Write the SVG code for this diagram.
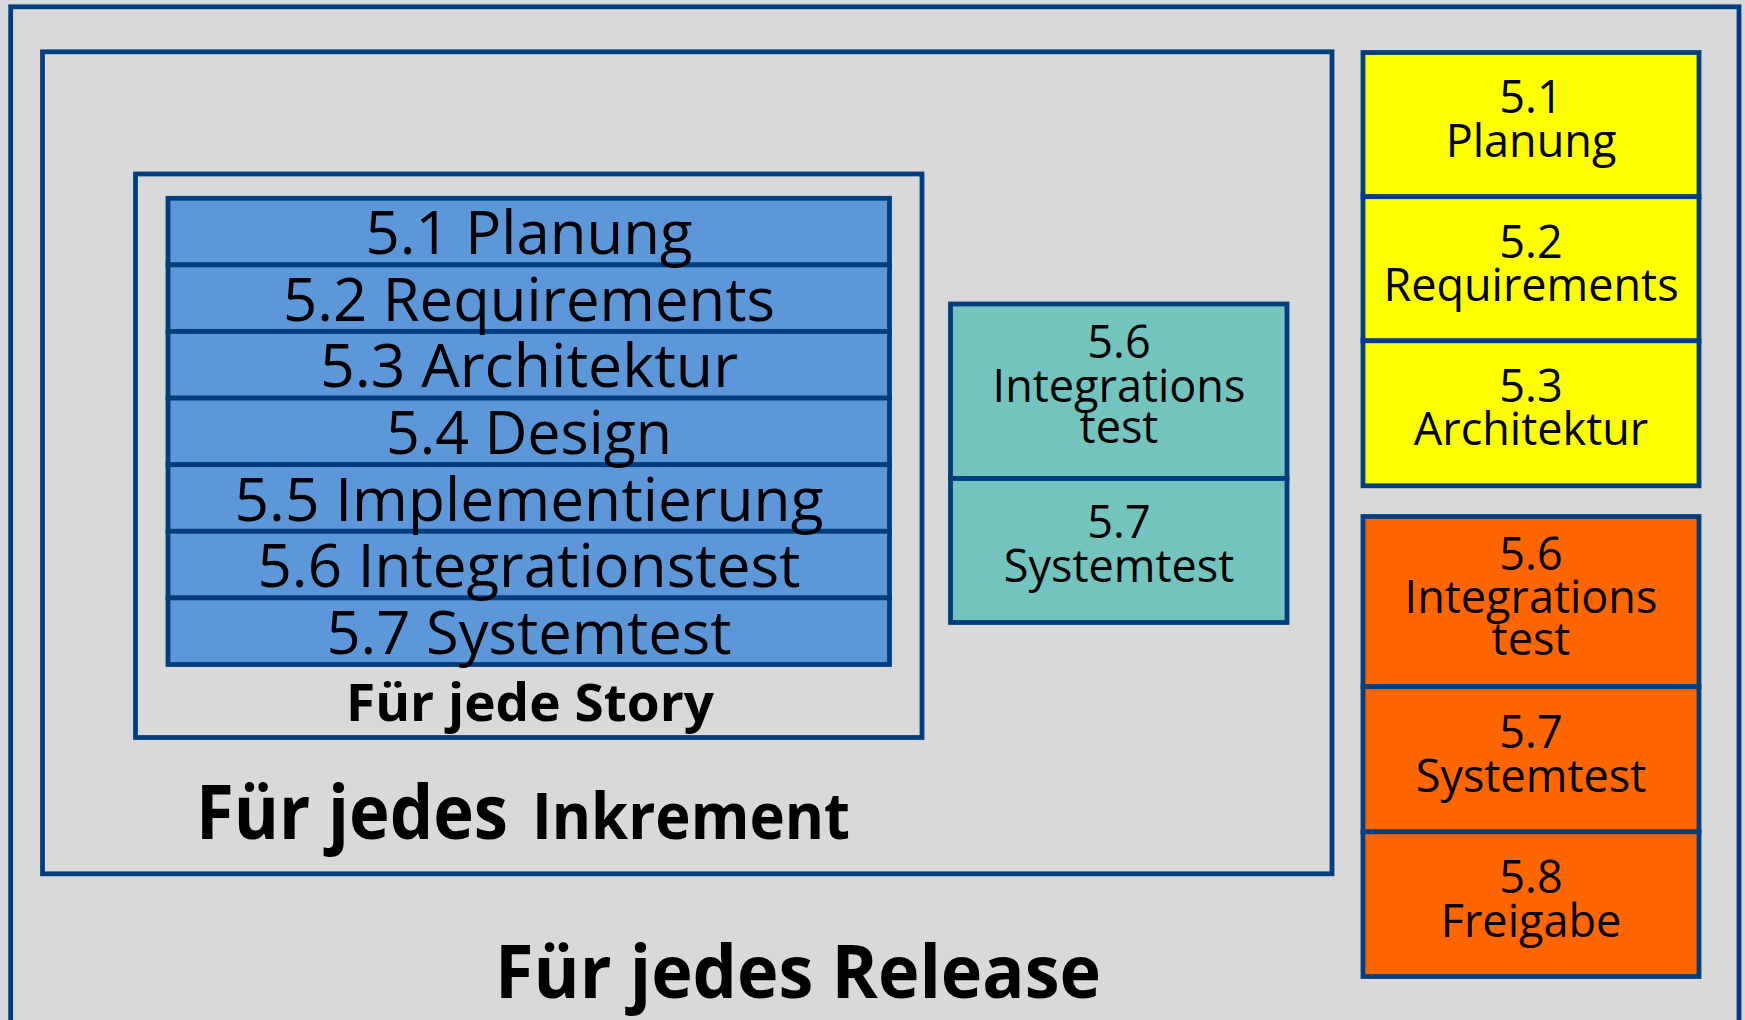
<svg xmlns="http://www.w3.org/2000/svg" width="1745" height="1020" viewBox="0 0 1745 1020">
<style>
.frame{fill:none;stroke:#003F7F;stroke-width:4.8}
.box{stroke:#003F7F;stroke-width:4.8}
.blue{fill:#5B97D9}
.teal{fill:#73C4BF}
.yellow{fill:#FFFF00}
.orange{fill:#FF6600}
.big{font-family:"Open Sans","Liberation Sans",sans-serif;font-size:60px;fill:#000;text-anchor:middle}
.sm{font-family:"Open Sans","Liberation Sans",sans-serif;font-size:45px;fill:#000;text-anchor:middle}
.bold{font-family:"Open Sans","Liberation Sans",sans-serif;font-weight:bold;fill:#000}
</style>
<rect x="0" y="0" width="1745" height="1020" fill="#D9D9D9"/>
<g id="release-frame">
<rect class="frame" x="10.7" y="6.8" width="1728.3" height="1030"/>
<text class="bold" x="495" y="998" font-size="73" textLength="606" lengthAdjust="spacingAndGlyphs">Für jedes Release</text>
</g>
<g id="increment-frame">
<rect class="frame" x="42.5" y="51.8" width="1289.5" height="822"/>
<text class="bold" y="839"><tspan x="196" font-size="75" textLength="312" lengthAdjust="spacingAndGlyphs">Für jedes</tspan><tspan x="532" font-size="64" textLength="318" lengthAdjust="spacingAndGlyphs">Inkrement</tspan></text>
</g>
<g id="story-frame">
<rect class="frame" x="135.5" y="174" width="786.5" height="563.5"/>
<text class="bold" x="530" y="720.5" font-size="52" text-anchor="middle" textLength="368" lengthAdjust="spacingAndGlyphs">Für jede Story</text>
</g>
<g id="story-steps">
<rect class="box blue" x="168" y="198.3" width="721.5" height="66.6"/>
<rect class="box blue" x="168" y="264.9" width="721.5" height="66.6"/>
<rect class="box blue" x="168" y="331.5" width="721.5" height="66.6"/>
<rect class="box blue" x="168" y="398.1" width="721.5" height="66.6"/>
<rect class="box blue" x="168" y="464.7" width="721.5" height="66.6"/>
<rect class="box blue" x="168" y="531.3" width="721.5" height="66.6"/>
<rect class="box blue" x="168" y="597.9" width="721.5" height="66.6"/>
<text class="big" x="529" y="254" textLength="327" lengthAdjust="spacingAndGlyphs">5.1 Planung</text>
<text class="big" x="529" y="320.6" textLength="492" lengthAdjust="spacingAndGlyphs">5.2 Requirements</text>
<text class="big" x="529" y="387.3" textLength="418" lengthAdjust="spacingAndGlyphs">5.3 Architektur</text>
<text class="big" x="529" y="454" textLength="286" lengthAdjust="spacingAndGlyphs">5.4 Design</text>
<text class="big" x="529" y="520.6" textLength="589" lengthAdjust="spacingAndGlyphs">5.5 Implementierung</text>
<text class="big" x="529" y="587.3" textLength="543" lengthAdjust="spacingAndGlyphs">5.6 Integrationstest</text>
<text class="big" x="529" y="654" textLength="405" lengthAdjust="spacingAndGlyphs">5.7 Systemtest</text>
</g>
<g id="increment-tests">
<rect class="box teal" x="950.5" y="304" width="336.5" height="174.5"/>
<rect class="box teal" x="950.5" y="478.5" width="336.5" height="144"/>
<text class="sm" x="1119" y="358.3">5.6</text>
<text class="sm" x="1119" y="401.7">Integrations</text>
<text class="sm" x="1119" y="443.3">test</text>
<text class="sm" x="1119" y="538.3">5.7</text>
<text class="sm" x="1119" y="581.7">Systemtest</text>
</g>
<g id="release-start">
<rect class="box yellow" x="1363" y="52.5" width="336" height="144.2"/>
<rect class="box yellow" x="1363" y="196.7" width="336" height="144.1"/>
<rect class="box yellow" x="1363" y="340.8" width="336" height="145"/>
<text class="sm" x="1531" y="113.3">5.1</text>
<text class="sm" x="1531" y="156.7">Planung</text>
<text class="sm" x="1531" y="258.3">5.2</text>
<text class="sm" x="1531" y="300.7">Requirements</text>
<text class="sm" x="1531" y="401.7">5.3</text>
<text class="sm" x="1531" y="445">Architektur</text>
</g>
<g id="release-end">
<rect class="box orange" x="1363" y="516.5" width="336" height="170.2"/>
<rect class="box orange" x="1363" y="686.7" width="336" height="145.1"/>
<rect class="box orange" x="1363" y="831.8" width="336" height="144.7"/>
<text class="sm" x="1531" y="570">5.6</text>
<text class="sm" x="1531" y="613.3">Integrations</text>
<text class="sm" x="1531" y="655">test</text>
<text class="sm" x="1531" y="748.3">5.7</text>
<text class="sm" x="1531" y="791.7">Systemtest</text>
<text class="sm" x="1531" y="893.3">5.8</text>
<text class="sm" x="1531" y="936.7">Freigabe</text>
</g>
<g id="connectors"/>
</svg>
